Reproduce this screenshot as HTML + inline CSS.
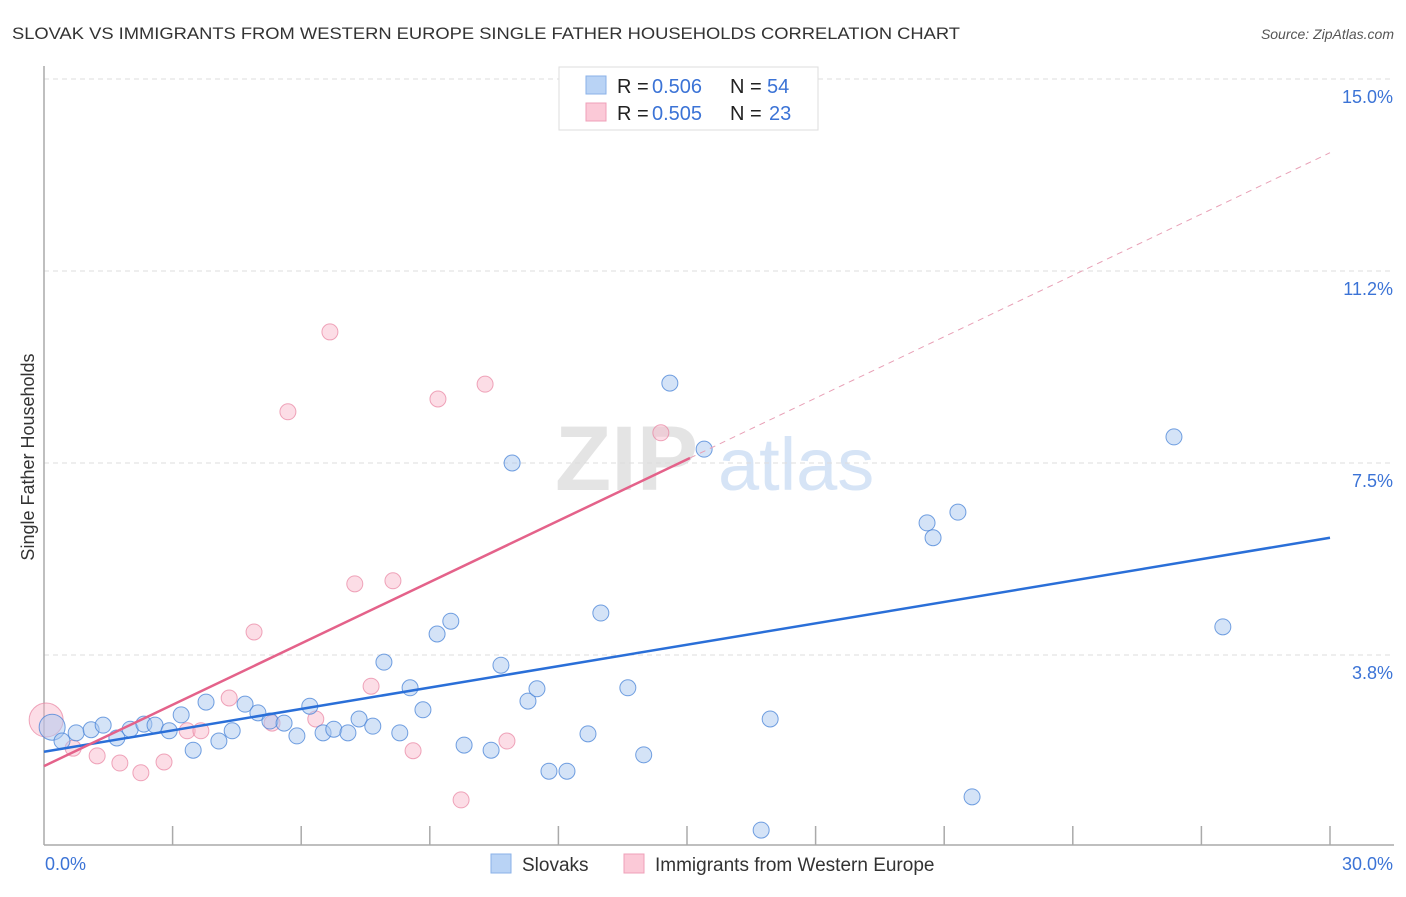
<!DOCTYPE html>
<html><head><meta charset="utf-8"><style>
body{margin:0;background:#fff;font-family:"Liberation Sans",sans-serif;}
svg text{font-family:"Liberation Sans",sans-serif;}
</style></head><body>
<svg id="chart" width="1406" height="892">
<text x="12" y="39" font-size="17" fill="#333" textLength="948" lengthAdjust="spacingAndGlyphs">SLOVAK VS IMMIGRANTS FROM WESTERN EUROPE SINGLE FATHER HOUSEHOLDS CORRELATION CHART</text>
<text x="1394" y="39" font-size="14" fill="#555" text-anchor="end" font-style="italic">Source: ZipAtlas.com</text>
<text x="555" y="490" font-size="92" fill="#e4e4e4" font-family="Liberation Serif" font-weight="bold">ZIP</text>
<text x="718" y="490" font-size="74" fill="#d6e4f6">atlas</text>
<g id="grid"></g>
<g id="axes"></g>
<g id="marks"></g>
<text transform="translate(34,457) rotate(-90)" font-size="18" fill="#333" text-anchor="middle">Single Father Households</text>
<g>
<rect x="559" y="67" width="259" height="63" fill="#fff" stroke="#ddd"/>
<rect x="586" y="76" width="20" height="18" fill="#b9d3f5" stroke="#8ab1e8"/>
<rect x="586" y="103" width="20" height="18" fill="#fbc9d7" stroke="#efa0b8"/>
<text x="617" y="93" font-size="20" fill="#222">R = <tspan x="652" fill="#3b73d6">0.506</tspan><tspan x="730">N = </tspan><tspan x="767" fill="#3b73d6">54</tspan></text>
<text x="617" y="120" font-size="20" fill="#222">R = <tspan x="652" fill="#3b73d6">0.505</tspan><tspan x="730">N = </tspan><tspan x="769" fill="#3b73d6">23</tspan></text>
</g>
<g>
<rect x="491" y="854" width="20" height="19" fill="#b9d3f5" stroke="#8ab1e8"/>
<text x="522" y="871" font-size="19" fill="#333">Slovaks</text>
<rect x="624" y="854" width="20" height="19" fill="#fbc9d7" stroke="#efa0b8"/>
<text x="655" y="871" font-size="19" fill="#333">Immigrants from Western Europe</text>
</g>
</svg>
<script>
const blueX=[0.19,0.42,0.75,1.10,1.38,1.70,2.01,2.33,2.59,2.92,3.20,3.48,3.78,4.08,4.39,4.69,4.99,5.27,5.60,5.90,6.20,6.51,6.76,7.09,7.35,7.67,7.93,8.30,8.54,8.84,9.17,9.49,9.80,10.43,10.66,10.92,11.29,11.50,11.78,12.20,12.69,12.99,13.62,13.99,14.60,15.40,16.73,16.94,20.60,20.74,21.32,21.65,26.36,27.50];
const blueY=[2.34,2.07,2.23,2.29,2.38,2.13,2.30,2.40,2.38,2.27,2.58,1.89,2.83,2.07,2.27,2.79,2.62,2.46,2.42,2.17,2.75,2.23,2.30,2.23,2.50,2.36,3.61,2.23,3.11,2.68,4.16,4.41,1.99,1.89,3.55,7.50,2.85,3.09,1.48,1.48,2.21,4.57,3.11,1.80,9.06,7.77,0.33,2.50,6.33,6.04,6.54,0.98,8.01,4.30];
const pinkX=[0.05,0.68,1.24,1.77,2.26,2.80,3.34,3.66,4.32,4.90,5.32,5.69,6.34,6.67,7.25,7.63,8.14,8.61,9.19,9.73,10.29,10.80,14.39];
const pinkY=[2.48,1.93,1.78,1.64,1.45,1.66,2.27,2.27,2.91,4.20,2.42,8.50,2.50,10.06,5.14,3.14,5.20,1.88,8.75,0.92,9.04,2.07,8.09];
const yTicks=[3.8,7.5,11.2,15.0];
const yTickVals=[3.75,7.5,11.25,15.0];
const blueLine=[1.86,6.04];
const pinkLine=[1.58,13.56];
const pinkSolidEnd=15.07;
const X=v=>44+v/30*1286, Y=v=>847-v*51.2;
const NS="http://www.w3.org/2000/svg";
function mk(tag,attrs,parent){const e=document.createElementNS(NS,tag);for(const k in attrs)e.setAttribute(k,attrs[k]);document.getElementById(parent).appendChild(e);return e;}
yTickVals.forEach((v,i)=>{
 const g=mk('line',{x1:44,x2:1394,y1:Y(v),y2:Y(v),stroke:'#ddd','stroke-dasharray':'5,4'},'grid');
 
 
 const t=mk('text',{x:1393,y:Y(v)+24,'font-size':18,fill:'#3b73d6','text-anchor':'end'},'grid');
 t.textContent=yTicks[i].toFixed(1)+'%';
 
 
});
let a=mk('line',{x1:44,x2:44,y1:66,y2:845,stroke:'#aaa','stroke-width':1.5},'axes');


a=mk('line',{x1:44,x2:1394,y1:845,y2:845,stroke:'#aaa','stroke-width':1.5},'axes');


for(let i=1;i<=10;i++){const t=mk('line',{x1:X(i*3),x2:X(i*3),y1:826,y2:845,stroke:'#aaa','stroke-width':1.5},'axes');
 
 }
let tl=mk('text',{x:45,y:870,'font-size':18,fill:'#3b73d6'},'axes');tl.textContent='0.0%';


tl=mk('text',{x:1393,y:870,'font-size':18,fill:'#3b73d6','text-anchor':'end'},'axes');tl.textContent='30.0%';


pinkX.forEach((x,i)=>{const c=mk('circle',{cx:X(x),cy:Y(pinkY[i]),r:i===0?17:8,fill:'rgba(248,180,200,0.45)',stroke:'rgba(232,130,160,0.7)','stroke-width':1},'marks');
 
 });
blueX.forEach((x,i)=>{const c=mk('circle',{cx:X(x),cy:Y(blueY[i]),r:i===0?13:8,fill:'rgba(170,200,240,0.5)',stroke:'rgba(70,130,215,0.75)','stroke-width':1},'marks');
 
 });
let l=mk('line',{x1:X(0),y1:Y(blueLine[0]),x2:X(30),y2:Y(blueLine[1]),stroke:'#2a6fd8','stroke-width':2.5},'marks');


const pv=x=>pinkLine[0]+(pinkLine[1]-pinkLine[0])*x/30;
l=mk('line',{x1:X(0),y1:Y(pv(0)),x2:X(pinkSolidEnd),y2:Y(pv(pinkSolidEnd)),stroke:'#e4628a','stroke-width':2.5},'marks');


l=mk('line',{x1:X(pinkSolidEnd),y1:Y(pv(pinkSolidEnd)),x2:X(30),y2:Y(pv(30)),stroke:'#e8a0b6','stroke-width':1,'stroke-dasharray':'6,5'},'marks');


</script>
</body></html>
